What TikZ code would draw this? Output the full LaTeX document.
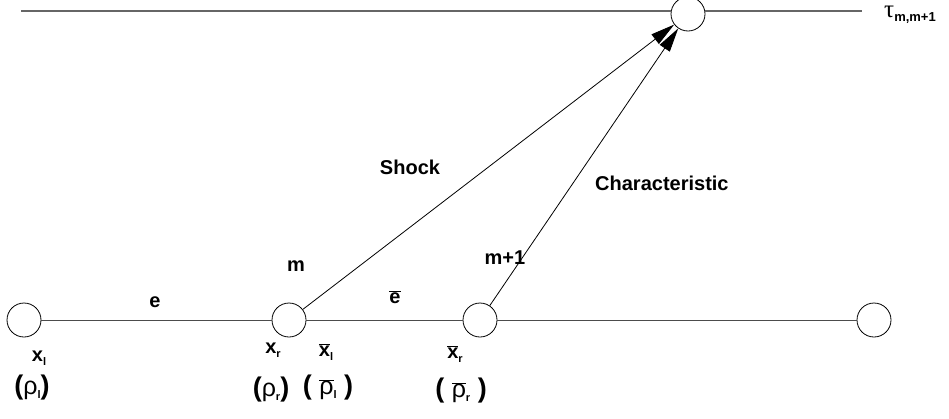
\documentclass[tikz,border=0pt]{standalone}
\usepackage{fontspec}
\setmainfont{Liberation Sans}
\newfontfamily\grk{Liberation Sans}
\newfontfamily\grks{Liberation Serif}
\usetikzlibrary{arrows.meta}
\newcommand\lowsub[1]{\raisebox{-3.5pt}{\fontsize{11}{11}\selectfont\bfseries #1}}
\newcommand\withbar[1]{$\overline{\hbox{#1}}$}
\newcommand\rh{{\fontsize{25}{25}\selectfont\grk\mdseries ρ}}
\begin{document}
\begin{tikzpicture}[x=1pt,y=-1pt,
  vtx/.style={circle,draw,line width=0.8pt,minimum size=34pt,inner sep=0pt},
  edge/.style={draw=black!70,line width=1pt},
  topedge/.style={draw=black!60,line width=1.6pt},
  arr/.style={draw=black,line width=0.8pt,-{Triangle[length=24pt,width=12pt]}},
  lbl/.style={font=\fontsize{20}{22}\selectfont\bfseries,inner sep=0pt},
  par/.style={font=\fontsize{27}{28}\selectfont\bfseries,inner sep=0pt}]
\useasboundingbox (0,0) rectangle (949,418);
% vertices
\node[vtx] (A) at (24,320) {};
\node[vtx] (B) at (289,320) {};
\node[vtx] (C) at (480,320) {};
\node[vtx] (D) at (874,320) {};
\node[vtx] (T) at (688,14) {};
\coordinate (TL) at (21,11);
\coordinate (TR) at (862,11);
% lines
\draw[topedge] (TL) -- (TL -| T.west);
\draw[topedge] (TR -| T.east) -- (TR);
\draw[edge] (A) -- (B);
\draw[edge] (B) -- (C);
\draw[edge] (C) -- (D);
\draw[arr] (B) -- (T);
\draw[arr] (C) -- (T);
% labels
\node[lbl] (le) at (155,302) {e};
\node[lbl] (lebar) at (395,297) {\withbar{e}};
\node[lbl] (lm) at (296,266) {m};
\node[lbl] (lm1) at (505,258) {m+1};
\node[lbl] (lshock) at (410,167) {Shock};
\node[lbl,anchor=west] (lchar) at (595,183) {Characteristic};
\node[lbl] (lxl) at (39,358) {x\lowsub{l}};
\node[lbl] (lxr) at (273,350) {x\lowsub{r}};
\node[lbl] (lxlb) at (326,352) {\withbar{x}\lowsub{l}};
\node[lbl] (lxrb) at (455,354) {\withbar{x}\lowsub{r}};
\node[par] (rl) at (32,388) {(\rh\lowsub{l})};
\node[par] (rr) at (271,390) {(\rh\lowsub{r})};
\node[par] (rlb) at (328,388) {( \withbar{\rh}\lowsub{l} )};
\node[par] (rrb) at (461,391) {( \withbar{\rh}\lowsub{r} )};
\node[inner sep=0pt,anchor=west] (tau) at (884,15) {{\fontsize{25}{25}\grks τ}\raisebox{-3.5pt}{\fontsize{13}{13}\selectfont\bfseries m,m+1}};
\end{tikzpicture}
\end{document}
